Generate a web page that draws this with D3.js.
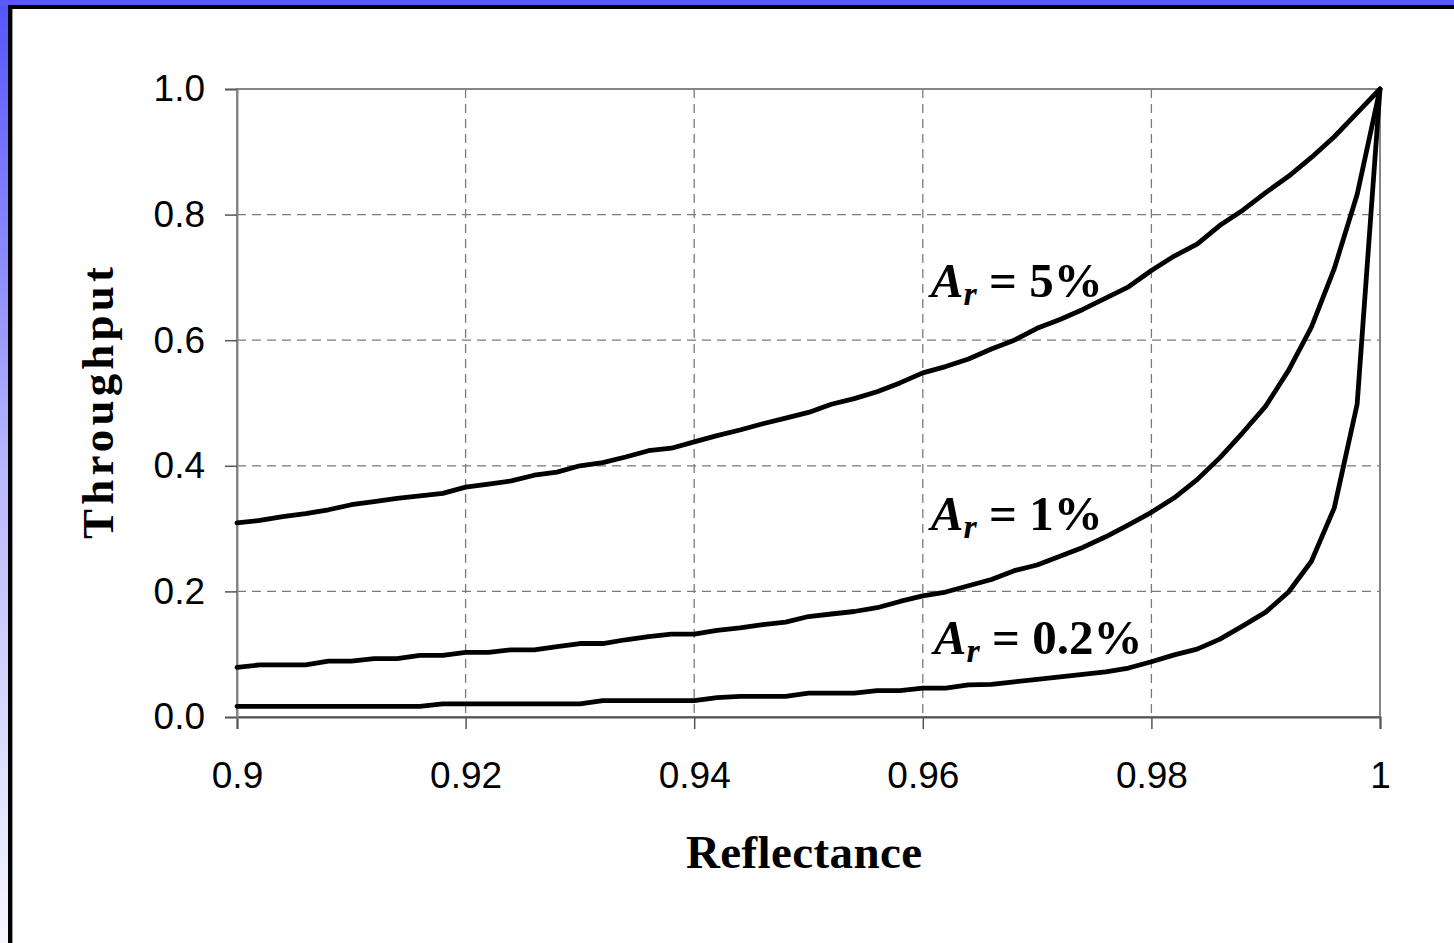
<!DOCTYPE html>
<html>
<head>
<meta charset="utf-8">
<script src="https://cdn.jsdelivr.net/npm/d3@7"></script>
<style>
  html, body { margin: 0; padding: 0; background: #ffffff; }
  svg { display: block; }
</style>
</head>
<body>
<svg id="chart" width="1454" height="943"></svg>
<script>
// ---------- DATA ----------
const reflectance = [
  0.900, 0.902, 0.904, 0.906, 0.908, 0.910, 0.912, 0.914, 0.916, 0.918,
  0.920, 0.922, 0.924, 0.926, 0.928, 0.930, 0.932, 0.934, 0.936, 0.938,
  0.940, 0.942, 0.944, 0.946, 0.948, 0.950, 0.952, 0.954, 0.956, 0.958,
  0.960, 0.962, 0.964, 0.966, 0.968, 0.970, 0.972, 0.974, 0.976, 0.978,
  0.980, 0.982, 0.984, 0.986, 0.988, 0.990, 0.992, 0.994, 0.996, 0.998, 1.000
];
const throughput5 = [
  0.309, 0.313, 0.319, 0.324, 0.330, 0.338, 0.343, 0.348, 0.352, 0.356,
  0.366, 0.371, 0.376, 0.385, 0.390, 0.400, 0.405, 0.414, 0.424, 0.428,
  0.438, 0.448, 0.457, 0.467, 0.476, 0.485, 0.498, 0.507, 0.518, 0.532,
  0.548, 0.558, 0.570, 0.586, 0.600, 0.619, 0.633, 0.649, 0.667, 0.685,
  0.711, 0.734, 0.753, 0.783, 0.807, 0.835, 0.861, 0.891, 0.924, 0.962, 1.000
];
const throughput1 = [
  0.079, 0.083, 0.083, 0.083, 0.089, 0.089, 0.093, 0.093, 0.098, 0.098,
  0.103, 0.103, 0.107, 0.107, 0.112, 0.117, 0.117, 0.123, 0.128, 0.132,
  0.132, 0.138, 0.142, 0.147, 0.151, 0.160, 0.164, 0.168, 0.174, 0.184,
  0.193, 0.199, 0.209, 0.219, 0.233, 0.242, 0.256, 0.270, 0.287, 0.306,
  0.326, 0.349, 0.378, 0.413, 0.453, 0.495, 0.552, 0.621, 0.714, 0.832, 1.000
];
const throughput02 = [
  0.017, 0.017, 0.017, 0.017, 0.017, 0.017, 0.017, 0.017, 0.017, 0.021,
  0.021, 0.021, 0.021, 0.021, 0.021, 0.021, 0.026, 0.026, 0.026, 0.026,
  0.026, 0.031, 0.033, 0.033, 0.033, 0.038, 0.038, 0.038, 0.042, 0.042,
  0.046, 0.046, 0.051, 0.052, 0.056, 0.060, 0.064, 0.068, 0.072, 0.078,
  0.088, 0.099, 0.108, 0.124, 0.145, 0.167, 0.199, 0.248, 0.333, 0.498, 1.000
];
const seriesNames = ["5%", "1%", "0.2%"];
const xTicks = [0.90, 0.92, 0.94, 0.96, 0.98, 1.00];
const xTickLabels = ["0.9", "0.92", "0.94", "0.96", "0.98", "1"];
const yTicks = [0.0, 0.2, 0.4, 0.6, 0.8, 1.0];
const yTickLabels = ["0.0", "0.2", "0.4", "0.6", "0.8", "1.0"];
const xTitle = "Reflectance";
const yTitle = "Throughput";
// label anchor points (in data units) for the series annotations
const labelR = [0.96, 0.96, 0.96];
const labelT = [0.668, 0.297, 0.101];

// ---------- LAYOUT ----------
const svg = d3.select("#chart");
const W = 1454, H = 943;
const plot = { left: 237, right: 1380, top: 89, bottom: 717 };

const x = d3.scaleLinear().domain([0.9, 1.0]).range([plot.left, plot.right]);
const y = d3.scaleLinear().domain([0, 1]).range([plot.bottom, plot.top]);

// ---------- FRAME ----------
const defs = svg.append("defs");
const grad = defs.append("linearGradient").attr("id", "leftGrad")
  .attr("x1", 0).attr("y1", 0).attr("x2", 0).attr("y2", 1);
grad.append("stop").attr("offset", "0%").attr("stop-color", "#5555ff");
grad.append("stop").attr("offset", "50%").attr("stop-color", "#b8b8ff");
grad.append("stop").attr("offset", "100%").attr("stop-color", "#f6f6ff");

svg.append("rect").attr("x", 0).attr("y", 0).attr("width", W).attr("height", H).attr("fill", "#ffffff");
svg.append("rect").attr("x", 0).attr("y", 0).attr("width", 9).attr("height", H).attr("fill", "url(#leftGrad)");
svg.append("rect").attr("x", 0).attr("y", 0).attr("width", W).attr("height", 5).attr("fill", "#5a5aff");
svg.append("rect").attr("x", 8).attr("y", 5).attr("width", W - 8).attr("height", 4).attr("fill", "#000000");
svg.append("rect").attr("x", 8).attr("y", 5).attr("width", 4).attr("height", H - 5).attr("fill", "#000000");
svg.append("rect").attr("x", 12).attr("y", 9).attr("width", 1).attr("height", H - 9).attr("fill", "#9a9a9a");

// ---------- GRID ----------
const g = svg.append("g");
g.selectAll(".hgrid").data(yTicks.filter(d => d > 0 && d < 1)).enter().append("line")
  .attr("x1", plot.left).attr("x2", plot.right)
  .attr("y1", d => y(d)).attr("y2", d => y(d))
  .attr("stroke", "#7a7a7a").attr("stroke-width", 1.3).attr("stroke-dasharray", "9,6");
g.selectAll(".vgrid").data(xTicks.filter(d => d > 0.9 && d < 1.0)).enter().append("line")
  .attr("x1", d => x(d)).attr("x2", d => x(d))
  .attr("y1", plot.top).attr("y2", plot.bottom)
  .attr("stroke", "#7a7a7a").attr("stroke-width", 1.3).attr("stroke-dasharray", "9,6");

// plot border
g.append("rect").attr("x", plot.left).attr("y", plot.top)
  .attr("width", plot.right - plot.left).attr("height", plot.bottom - plot.top)
  .attr("fill", "none").attr("stroke", "#858585").attr("stroke-width", 2);

// ---------- AXES ----------
const xAxis = d3.axisBottom(x).tickValues(xTicks)
  .tickFormat((d, i) => xTickLabels[i]).tickSize(12).tickPadding(33);
const gx = svg.append("g").attr("transform", `translate(0,${plot.bottom})`).call(xAxis);
gx.select(".domain").attr("stroke", "#555555").attr("stroke-width", 2);
gx.selectAll(".tick line").attr("stroke", "#555555").attr("stroke-width", 1.5);
gx.selectAll(".tick text").attr("font-family", "'Liberation Sans', Arial, sans-serif")
  .attr("font-size", 37).attr("fill", "#000").attr("dy", "0.71em");

const yAxis = d3.axisLeft(y).tickValues(yTicks)
  .tickFormat((d, i) => yTickLabels[i]).tickSize(12).tickPadding(20);
const gy = svg.append("g").attr("transform", `translate(${plot.left},0)`).call(yAxis);
gy.select(".domain").attr("stroke", "#858585").attr("stroke-width", 2);
gy.selectAll(".tick line").attr("stroke", "#555555").attr("stroke-width", 1.5);
gy.selectAll(".tick text").attr("font-family", "'Liberation Sans', Arial, sans-serif")
  .attr("font-size", 37).attr("fill", "#000").attr("dy", "0.32em");

// ---------- LINES ----------
const allSeries = [throughput5, throughput1, throughput02];
const line = d3.line().x(d => x(d[0])).y(d => y(d[1]));
svg.append("g").selectAll("path").data(allSeries).enter().append("path")
  .attr("d", s => line(reflectance.map((r, i) => [r, s[i]])))
  .attr("fill", "none").attr("stroke", "#000").attr("stroke-width", 4.8)
  .attr("stroke-linejoin", "round").attr("stroke-linecap", "round");

// ---------- LABELS ----------
const lab = svg.append("g").attr("font-family", "'Liberation Serif', 'Times New Roman', serif")
  .attr("font-weight", "bold").attr("font-size", 49).attr("fill", "#000");
seriesNames.forEach((name, i) => {
  const t = lab.append("text").attr("x", x(labelR[i]) + 8 + (i === 2 ? 3 : 0)).attr("y", y(labelT[i]));
  t.append("tspan").attr("font-style", "italic").text("A");
  t.append("tspan").attr("font-style", "italic").attr("font-size", 34).attr("dy", 8).text("r");
  t.append("tspan").attr("dy", -8).text(" = " + name);
});

// axis titles
svg.append("text").attr("x", 804).attr("y", 868)
  .attr("text-anchor", "middle")
  .attr("font-family", "'Liberation Serif', 'Times New Roman', serif")
  .attr("font-weight", "bold").attr("font-size", 47)
  .attr("textLength", 236).attr("lengthAdjust", "spacing")
  .text(xTitle);
svg.append("text")
  .attr("transform", `translate(113,${(plot.top + plot.bottom) / 2}) rotate(-90)`)
  .attr("text-anchor", "middle")
  .attr("font-family", "'Liberation Serif', 'Times New Roman', serif")
  .attr("font-weight", "bold").attr("font-size", 45)
  .attr("textLength", 272).attr("lengthAdjust", "spacing")
  .text(yTitle);
</script>
</body>
</html>
